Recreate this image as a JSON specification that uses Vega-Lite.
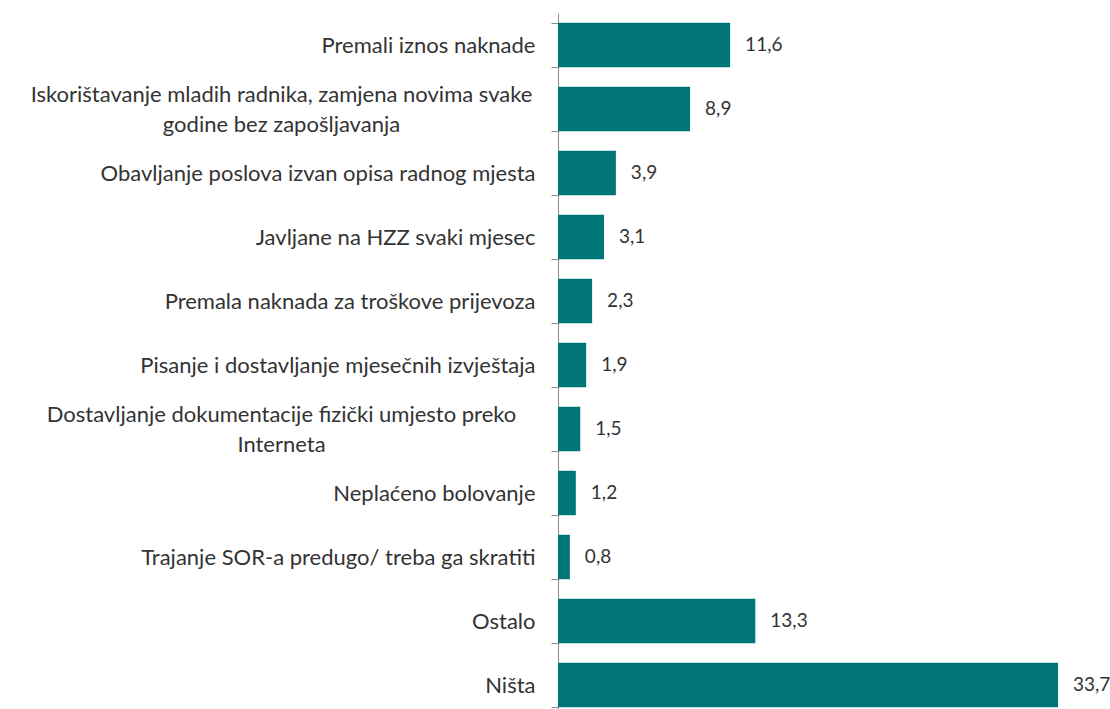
{
  "$schema": "https://vega.github.io/schema/vega-lite/v6.json",
  "autosize": "none",
  "width": 500,
  "height": 704,
  "padding": {"left": 558, "top": 13, "right": 52, "bottom": -8},
  "background": "white",
  "config": {
    "view": {"stroke": null}
  },
  "data": {
    "values": [
      {"kategorija": "Premali iznos naknade", "postotak": 11.6},
      {"kategorija": "Iskorištavanje mladih radnika, zamjena novima svake|godine bez zapošljavanja", "postotak": 8.9},
      {"kategorija": "Obavljanje poslova izvan opisa radnog mjesta", "postotak": 3.9},
      {"kategorija": "Javljane na HZZ svaki mjesec", "postotak": 3.1},
      {"kategorija": "Premala naknada za troškove prijevoza", "postotak": 2.3},
      {"kategorija": "Pisanje i dostavljanje mjesečnih izvještaja", "postotak": 1.9},
      {"kategorija": "Dostavljanje dokumentacije fizički umjesto preko|Interneta", "postotak": 1.5},
      {"kategorija": "Neplaćeno bolovanje", "postotak": 1.2},
      {"kategorija": "Trajanje SOR-a predugo/ treba ga skratiti", "postotak": 0.8},
      {"kategorija": "Ostalo", "postotak": 13.3},
      {"kategorija": "Ništa", "postotak": 33.7}
    ]
  },
  "encoding": {
    "y": {
      "field": "kategorija",
      "type": "nominal",
      "sort": null,
      "scale": {"paddingInner": 0.305, "paddingOuter": 0.1525},
      "axis": {
        "title": null,
        "labelExpr": "split(datum.label, '|')",
        "labelFont": "Lato",
        "labelFontSize": 22,
        "labelColor": "#333333",
        "labelLimit": 0,
        "labelLineHeight": 30,
        "labelBaseline": "middle",
        "labelAlign": {"condition": {"test": "isString(datum.value) && indexof(datum.value, '|') >= 0", "value": "center"}, "value": "right"},
        "labelOffset": {"condition": {"test": "isString(datum.value) && indexof(datum.value, '|') >= 0", "value": -15}, "value": 0},
        "labelPadding": {"condition": {"test": "isString(datum.value) && indexof(datum.value, '|') >= 0", "value": 270}, "value": 16},
        "tickBand": "extent",
        "tickSize": 7,
        "tickColor": "#8c8c8c",
        "domainColor": "#8c8c8c"
      }
    },
    "x": {
      "field": "postotak",
      "type": "quantitative",
      "scale": {"domain": [0, 33.7], "nice": false},
      "axis": null
    }
  },
  "layer": [
    {"mark": {"type": "bar", "color": "#00767b"}},
    {
      "mark": {
        "type": "text", "align": "left", "baseline": "middle", "dx": 15, "font": "Lato", "fontSize": 19, "color": "#333333",
        "text": {"expr": "replace(format(datum.postotak, '.1f'), '.', ',')"}
      }
    }
  ]
}
